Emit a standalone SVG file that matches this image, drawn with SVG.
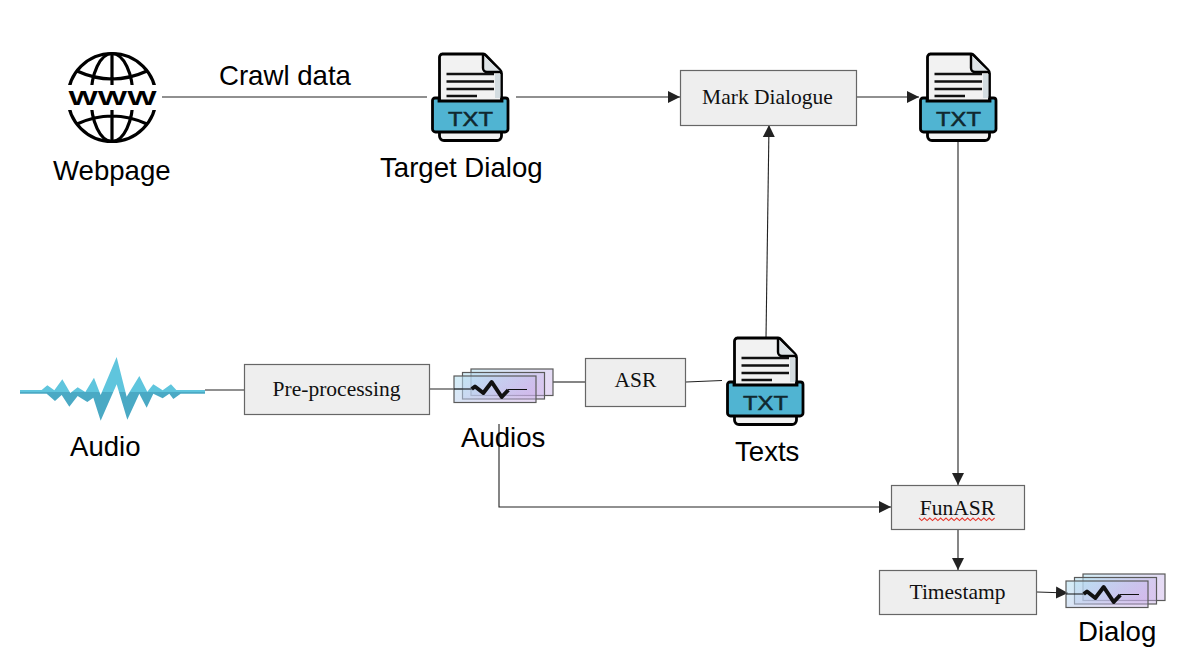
<svg xmlns="http://www.w3.org/2000/svg" width="1190" height="664" viewBox="0 0 1190 664">
<style>
.sans{font-family:"Liberation Sans",Arial,sans-serif;font-size:27.6px;fill:#000}
.serif{font-family:"Liberation Serif","Times New Roman",serif;font-size:21.5px;fill:#111;text-anchor:middle}
.box{fill:#eee;stroke:#666;stroke-width:1.2}
.c{fill:none;stroke:#222;stroke-width:1.1}
.lay{stroke:#5a5a5a;stroke-width:1.2}
.g{fill:none;stroke:#000;stroke-width:3.2}
</style>
<defs>
<marker id="arr" markerUnits="userSpaceOnUse" markerWidth="13" markerHeight="13" refX="12" refY="6.5" orient="auto"><path d="M0,0.500 L12,6.500 L0,12.500 Z" fill="#222"/></marker>
<linearGradient id="layer" x1="0" y1="0" x2="1" y2="0.4"><stop offset="0" stop-color="#b5e3f2" stop-opacity=".6"/><stop offset="1" stop-color="#c8aee8" stop-opacity=".45"/></linearGradient>
<linearGradient id="wave" gradientUnits="userSpaceOnUse" x1="0" y1="0" x2="0" y2="240"><stop offset=".585" stop-color="#5fc5dd"/><stop offset=".585" stop-color="#4aa9c4"/></linearGradient>
<g id="txt">
<path d="M10,0 H51 a5,5 0 0 1 3,1.500 L68,16 a5,5 0 0 1 1.500,3.500 V82 a4.500,4.500 0 0 1 -4.500,4.500 H12 a4.500,4.500 0 0 1 -4.500,-4.500 V3 a3,3 0 0 1 3,-3 Z" fill="#f2f2f2" stroke="#000" stroke-width="2.800"/>
<path d="M63,20 H68.500 V44 H63 Z" fill="#d3dce0"/>
<path d="M51,1 V14 a4,4 0 0 0 4,4 H69" fill="#dde3e6" stroke="#000" stroke-width="2.400"/>
<path d="M14.500,20 H62 M14.500,27.500 H62 M14.500,35 H62 M14.500,42 H45" stroke="#111" stroke-width="2.600"/>
<path d="M7,44 V47 H70 V44 H73.500 a2.500,2.500 0 0 1 2.500,2.500 V75 a3,3 0 0 1 -3,3 H3.500 a3,3 0 0 1 -3,-3 V46.500 a2.500,2.500 0 0 1 2.500,-2.500 Z" fill="#50b4d2" stroke="#000" stroke-width="2.800"/>
<text x="38.500" y="71.500" text-anchor="middle" textLength="45" lengthAdjust="spacingAndGlyphs" font-family="'Liberation Sans',Arial,sans-serif" font-size="21" stroke="#10282f" stroke-width=".5" fill="#10282f">TXT</text>
</g>
<g id="layers">
<rect class="lay" x="17" y="0" width="82" height="26.500" fill="url(#layer)"/>
<rect class="lay" x="8.500" y="3.500" width="82" height="26.500" fill="url(#layer)"/>
<rect class="lay" x="0" y="7" width="82" height="26.500" fill="url(#layer)"/>
<path d="M0,20 H17.700 M54,20.500 H73" fill="none" stroke="#111" stroke-width="1.200"/>
<path d="M17.700,20 L21,17.500 L29.300,24 L37.700,13 L47.700,28 L54.300,21" fill="none" stroke="#111" stroke-width="4" stroke-linejoin="round"/>
</g>
</defs>

<g id="connectors">
<path class="c" d="M162,97 H427"/>
<path class="c" d="M516,97 H680" marker-end="url(#arr)"/>
<path class="c" d="M857,97 H919" marker-end="url(#arr)"/>
<path class="c" d="M766,338 L769,125" marker-end="url(#arr)"/>
<path class="c" d="M958,142 V485" marker-end="url(#arr)"/>
<path class="c" d="M205,390 H244"/>
<path class="c" d="M430,389 H471"/>
<path class="c" d="M553,382 H585"/>
<path class="c" d="M686,382 L722,380.500"/>
<path class="c" d="M499,424 V507 H891" marker-end="url(#arr)"/>
<path class="c" d="M958,529 V570" marker-end="url(#arr)"/>
<path class="c" d="M1037,592 L1068,593" marker-end="url(#arr)"/>
</g>

<g id="webpage">
<circle class="g" cx="112" cy="97.500" r="44"/>
<ellipse class="g" cx="112" cy="97.500" rx="21" ry="44"/>
<path class="g" d="M112,53 V142 M77,71 Q112,87 147,71 M77,124 Q112,108 147,124"/>
<rect x="64" y="85" width="97" height="25" fill="#fff"/>
<text x="112.500" y="105" text-anchor="middle" textLength="88" lengthAdjust="spacingAndGlyphs" font-family="'Liberation Sans',Arial,sans-serif" font-weight="700" font-size="21" fill="#000">WWW</text>
<text class="sans" x="53" y="180">Webpage</text>
</g>
<text id="crawl-label" class="sans" x="219" y="85">Crawl data</text>

<g id="target-dialog">
<use href="#txt" x="432" y="54"/>
<text class="sans" x="380" y="177">Target Dialog</text>
</g>
<g id="mark-dialogue">
<rect class="box" x="680.500" y="70.500" width="176" height="55"/>
<text class="serif" x="767.500" y="104">Mark Dialogue</text>
</g>
<g id="marked-txt">
<use href="#txt" x="920" y="54"/>
</g>

<g id="audio">
<path transform="translate(10,345) scale(.3333)" fill="url(#wave)" d="M30,135 H95 L112,121 L133,136 L157,103 L181,144 L203,127 L226,141 L252,98 L272,150 L320,36 L350,155 L388,93 L412,140 L430,118 L458,136 L483,118 L499,135 H585 V146 H512 L490,162 L478,146 L458,160 L430,146 L410,188 L388,146 L352,224 L320,118 L272,227 L250,158 L232,171 L203,153 L178,185 L155,150 L135,168 L110,146 H30 Z"/>
<text class="sans" x="70" y="456">Audio</text>
</g>
<g id="pre-processing">
<rect class="box" x="244.500" y="364.500" width="185" height="50"/>
<text class="serif" x="336.500" y="396">Pre-processing</text>
</g>
<g id="audios">
<use href="#layers" x="454" y="369"/>
<text class="sans" x="461" y="447">Audios</text>
</g>
<g id="asr">
<rect class="box" x="585.500" y="358.500" width="100" height="48"/>
<text class="serif" x="635.500" y="387">ASR</text>
</g>
<g id="texts">
<use href="#txt" x="727" y="338"/>
<text class="sans" x="735" y="461">Texts</text>
</g>
<g id="funasr">
<rect class="box" x="891.500" y="485.500" width="133" height="44"/>
<text class="serif" x="957.500" y="515">FunASR</text>
<path d="M919,518 l2.700,2.600 2.700,-2.600 2.700,2.600 2.700,-2.600 2.700,2.600 2.700,-2.600 2.700,2.600 2.700,-2.600 2.700,2.600 2.700,-2.600 2.700,2.600 2.700,-2.600 2.700,2.600 2.700,-2.600 2.700,2.600 2.700,-2.600 2.700,2.600 2.700,-2.600 2.700,2.600 2.700,-2.600 2.700,2.600 2.700,-2.600 2.700,2.600 2.700,-2.600 2.700,2.600 2.700,-2.600 2.700,2.600 2.700,-2.600" fill="none" stroke="#e5392e" stroke-width="1.100"/>
</g>
<g id="timestamp">
<rect class="box" x="879.500" y="570.500" width="157" height="44"/>
<text class="serif" x="957.500" y="599">Timestamp</text>
</g>
<g id="dialog">
<use href="#layers" x="1066" y="574"/>
<text class="sans" x="1078" y="641">Dialog</text>
</g>
</svg>
